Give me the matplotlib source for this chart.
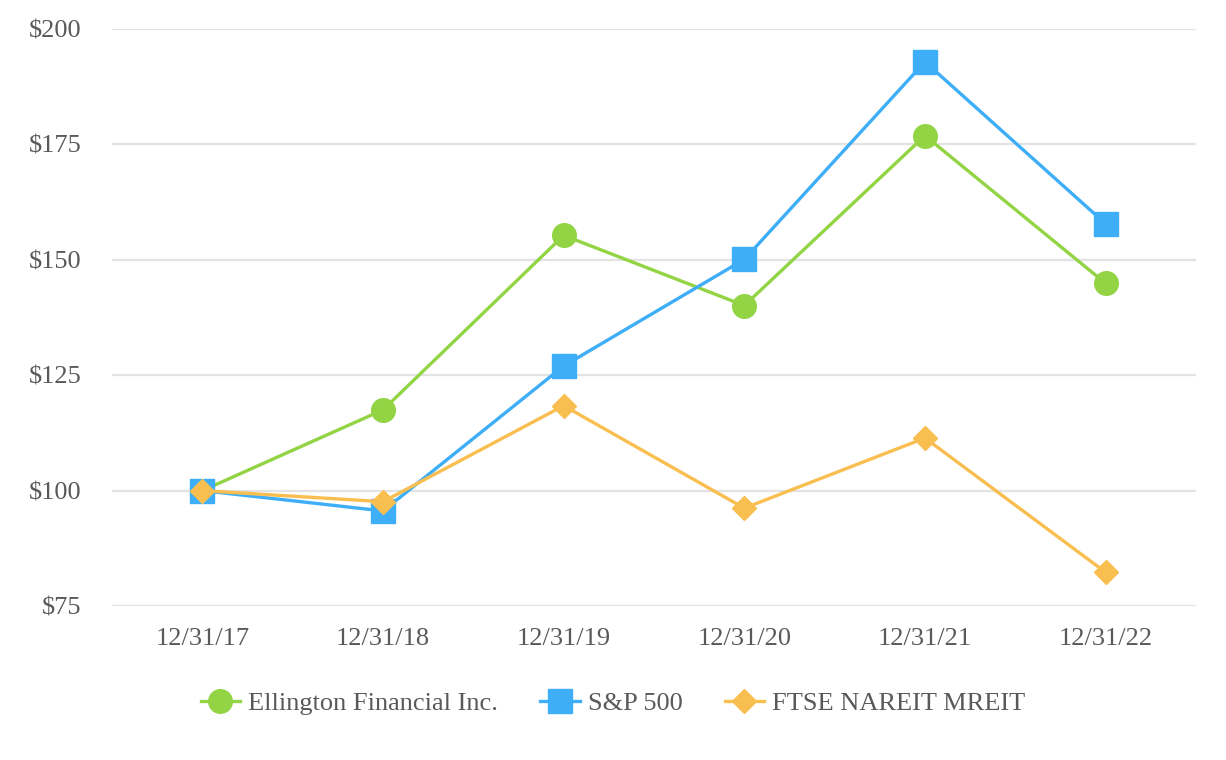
import matplotlib
matplotlib.use("Agg")
import matplotlib.pyplot as plt

# data
dates = ["12/31/17", "12/31/18", "12/31/19", "12/31/20", "12/31/21", "12/31/22"]
ellington = [100, 117.5, 155.3, 140.1, 176.9, 144.9]
sp500 = [100, 95.6, 127.0, 150.1, 192.9, 157.8]
mreit = [100, 97.6, 118.4, 96.2, 111.4, 82.3]
yticks = [75, 100, 125, 150, 175, 200]

plt.rcParams['font.family'] = ['Liberation Serif', 'DejaVu Serif']
txt_color = '#595959'

fig = plt.figure(figsize=(12.26, 7.6), dpi=100)
ax = fig.add_axes([0.0914, 0.2026, 0.8841, 0.7592])

x = range(len(dates))
ax.plot(x, ellington, color='#92D444', lw=2.4, marker='o', ms=17,
        label='Ellington Financial Inc.', zorder=3)
ax.plot(x, sp500, color='#3DAEF7', lw=2.4, marker='s', ms=17,
        label='S&P 500', zorder=3)
ax.plot(x, mreit, color='#F9BE50', lw=2.4, marker='D', ms=12,
        label='FTSE NAREIT MREIT', zorder=3)

ax.set_xlim(-0.5, len(dates) - 0.5)
ax.set_ylim(75, 200)
ax.set_yticks(yticks)
ax.set_yticklabels(['$%d' % v for v in yticks])
ax.set_xticks(list(x))
ax.set_xticklabels(dates)
ax.grid(axis='y', color='#E3E3E3', lw=1.6)
ax.set_axisbelow(True)
for s in ax.spines.values():
    s.set_visible(False)
ax.tick_params(length=0, labelsize=19, labelcolor=txt_color)
ax.tick_params(axis='y', pad=22)
ax.tick_params(axis='x', pad=16)

# legend centred on the whole figure, not the axes
leg = fig.legend(loc='center', bbox_to_anchor=(0.5, 0.074), ncol=3,
                 frameon=False, fontsize=19, handlelength=1.5, columnspacing=1.6,
                 handletextpad=0.3)
for t in leg.get_texts():
    t.set_color(txt_color)

fig.savefig('out.png', dpi=100)
